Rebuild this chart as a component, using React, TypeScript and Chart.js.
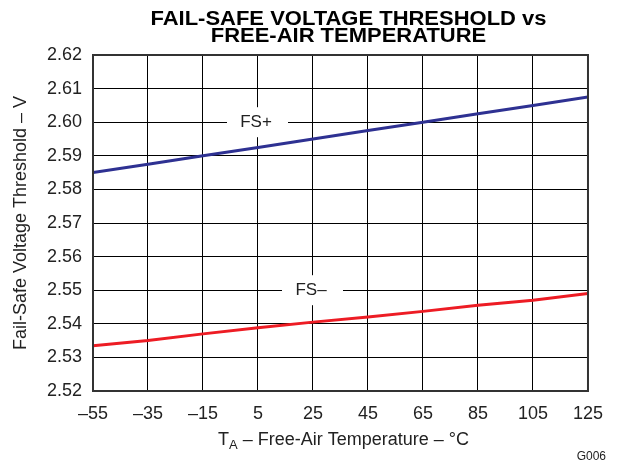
import React, { useEffect, useRef } from "react";
import { Chart, registerables } from "chart.js";

Chart.register(...registerables);

const temperatures = [-55, -35, -15, 5, 25, 45, 65, 85, 105, 125];
const fsPlus = [2.585, 2.5875, 2.59, 2.5925, 2.595, 2.5975, 2.6, 2.6025, 2.605, 2.6075];
const fsMinus = [2.5335, 2.535, 2.537, 2.5388, 2.5405, 2.542, 2.5437, 2.5455, 2.547, 2.549];
const yTicks = [2.52, 2.53, 2.54, 2.55, 2.56, 2.57, 2.58, 2.59, 2.6, 2.61, 2.62];
const titleLines = ["FAIL-SAFE VOLTAGE THRESHOLD vs", "FREE-AIR TEMPERATURE"];
const yAxisTitle = "Fail-Safe Voltage Threshold – V";
const seriesLabels = [
  { text: "FS+", x: 5, y: 2.6 },
  { text: "FS–", x: 25, y: 2.55 },
];

const FONT = "'Liberation Sans', Arial, sans-serif";

const overlay = {
  id: "overlay",
  afterDatasetsDraw(chart: any) {
    const ctx = chart.ctx;
    const xs = chart.scales.x;
    const ys = chart.scales.y;
    ctx.save();
    ctx.font = `17px ${FONT}`;
    ctx.textAlign = "center";
    ctx.textBaseline = "middle";
    for (const l of seriesLabels) {
      const px = xs.getPixelForValue(l.x);
      const py = ys.getPixelForValue(l.y);
      ctx.fillStyle = "#ffffff";
      ctx.fillRect(px - 31, py - 15, 61, 30);
      ctx.fillStyle = "#222222";
      ctx.fillText(l.text, px - 2, py);
    }
    ctx.restore();
  },
  afterDraw(chart: any) {
    const ctx = chart.ctx;
    const a = chart.chartArea;
    ctx.save();
    // frame
    ctx.strokeStyle = "#333333";
    ctx.lineWidth = 2;
    ctx.strokeRect(a.left, a.top, a.right - a.left, a.bottom - a.top);
    // title (slightly widened)
    ctx.fillStyle = "#000000";
    ctx.font = `bold 20px ${FONT}`;
    ctx.textAlign = "center";
    ctx.textBaseline = "alphabetic";
    const cx = (a.left + a.right) / 2 + 8;
    const w1 = ctx.measureText(titleLines[0]).width;
    const sx = 396 / w1;
    ctx.save();
    ctx.translate(cx, 17);
    ctx.scale(sx, 1);
    ctx.fillText(titleLines[0], 0, 0);
    ctx.restore();
    ctx.save();
    ctx.translate(cx, 34);
    ctx.scale(sx, 1);
    ctx.fillText(titleLines[1], 0, 0);
    ctx.restore();
    // y title
    ctx.fillStyle = "#222222";
    ctx.font = `18px ${FONT}`;
    ctx.save();
    ctx.translate(13, (a.top + a.bottom) / 2);
    ctx.rotate(-Math.PI / 2);
    ctx.textAlign = "center";
    ctx.textBaseline = "middle";
    ctx.fillText(yAxisTitle, 0, 0);
    ctx.restore();
    // x title with subscript
    const partT = "T";
    const partA = "A";
    const rest = " – Free-Air Temperature – °C";
    ctx.font = `18px ${FONT}`;
    const wT = ctx.measureText(partT).width;
    const wR = ctx.measureText(rest).width;
    ctx.font = `13px ${FONT}`;
    const wA = ctx.measureText(partA).width;
    const total = wT + wA + wR;
    let x0 = (a.left + a.right) / 2 + 3 - total / 2;
    const base = 437;
    ctx.textAlign = "left";
    ctx.textBaseline = "alphabetic";
    ctx.font = `18px ${FONT}`;
    ctx.fillText(partT, x0, base);
    x0 += wT;
    ctx.font = `13px ${FONT}`;
    ctx.fillText(partA, x0, base + 4);
    x0 += wA;
    ctx.font = `18px ${FONT}`;
    ctx.fillText(rest, x0, base);
    // code
    ctx.font = `12px ${FONT}`;
    ctx.textAlign = "right";
    ctx.fillText("G006", 598, 452);
    ctx.restore();
  },
};

export default function App() {
  const ref = useRef<HTMLCanvasElement | null>(null);
  useEffect(() => {
    if (!ref.current) return;
    const chart = new Chart(ref.current, {
      type: "line",
      data: {
        datasets: [
          {
            label: "FS+",
            data: temperatures.map((t, i) => ({ x: t, y: fsPlus[i] })),
            borderColor: "#2E3192",
            borderWidth: 3,
            pointRadius: 0,
            fill: false,
          },
          {
            label: "FS–",
            data: temperatures.map((t, i) => ({ x: t, y: fsMinus[i] })),
            borderColor: "#ED1C24",
            borderWidth: 3,
            pointRadius: 0,
            fill: false,
          },
        ],
      },
      options: {
        responsive: false,
        animation: false,
        layout: { padding: { top: 47, right: 27, left: 0, bottom: 0 } },
        plugins: {
          legend: { display: false },
          title: { display: false },
          tooltip: { enabled: false },
        },
        scales: {
          x: {
            type: "linear",
            min: -55,
            max: 125,
            afterFit: (s: any) => {
              s.height = 75;
            },
            afterBuildTicks: (s: any) => {
              s.ticks = temperatures.map((v) => ({ value: v }));
            },
            ticks: {
              color: "#222222",
              font: { family: FONT, size: 18 },
              padding: 12,
              maxRotation: 0,
              autoSkip: false,
              callback: (v: any) => String(v).replace("-", "–"),
            },
            grid: { color: "#000000", lineWidth: 1, drawTicks: false },
            border: { display: false },
          },
          y: {
            type: "linear",
            min: 2.52,
            max: 2.62,
            afterFit: (s: any) => {
              s.width = 85;
            },
            afterBuildTicks: (s: any) => {
              s.ticks = yTicks.map((v) => ({ value: v }));
            },
            ticks: {
              color: "#222222",
              font: { family: FONT, size: 18 },
              padding: 11,
              autoSkip: false,
              callback: (v: any) => Number(v).toFixed(2),
            },
            grid: { color: "#000000", lineWidth: 1, drawTicks: false },
            border: { display: false },
          },
        },
      },
      plugins: [overlay],
    });
    return () => chart.destroy();
  }, []);
  return (
    <div style={{ width: 607, height: 458 }}>
      <canvas ref={ref} width={607} height={458} style={{ display: "block" }} />
    </div>
  );
}
